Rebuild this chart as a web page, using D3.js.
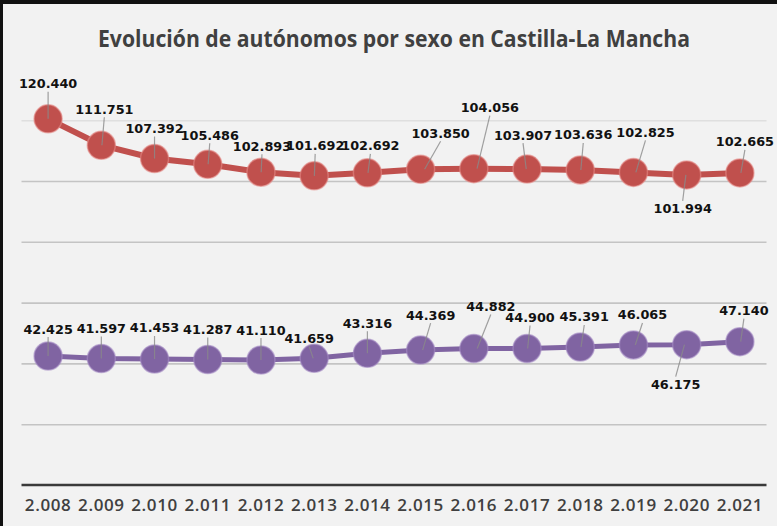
<!DOCTYPE html>
<html lang="es">
<head>
  <meta charset="UTF-8">
  <title>Evolución de autónomos por sexo en Castilla-La Mancha</title>
  <script src="https://d3js.org/d3.v7.min.js"></script>
  <style>
    body { margin: 0; background: #f2f2f2; }
    svg { display: block; }
    .title { font-family: "Open Sans", sans-serif; font-weight: 700; font-size: 23px; fill: #404040; }
    .xlab { font-family: "Open Sans", sans-serif; font-weight: 600; font-size: 17px; fill: #404040; }
    .val { font-family: "DejaVu Sans", sans-serif; font-weight: 700; font-size: 12.8px; fill: #111; }
  </style>
</head>
<body>
  <svg width="777" height="526"></svg>
  <script>
    // data
    const years = ["2.008", "2.009", "2.010", "2.011", "2.012", "2.013", "2.014",
                   "2.015", "2.016", "2.017", "2.018", "2.019", "2.020", "2.021"];
    const hombres = [120440, 111751, 107392, 105486, 102893, 101692, 102692,
                     103850, 104056, 103907, 103636, 102825, 101994, 102665];
    const mujeres = [42425, 41597, 41453, 41287, 41110, 41659, 43316,
                     44369, 44882, 44900, 45391, 46065, 46175, 47140];
    const gridTicks = [20000, 40000, 60000, 80000, 100000, 120000];

    // label placement (nudges from the point, in px)
    const hombresNudgeX = [0, 3, 0, 2, 1, 1, 3, 20, 16, -4, 3, 12, -4, 5];
    const hombresNudgeY = [-35, -36, -30, -29, -26, -30, -27, -36, -61, -34, -35, -40, 34, -31];
    const mujeresNudgeX = [0, 0, 0, 0, 0, -5, 0, 10, 17, 3, 4, 9, -11, 4];
    const mujeresNudgeY = [-27, -30, -31, -30, -30, -20, -30, -35, -42, -31, -30, -30, 40, -31];

    const svg = d3.select("svg");
    const fmt = d3.format(",.0f");
    const label = v => fmt(v).replace(/,/g, ".");

    const x = d3.scaleBand().domain(years).range([21.5, 766.5]);
    const y = d3.scaleLinear().domain([0, 140000]).range([485, 59.4]);
    const cx = d => x(d) + x.bandwidth() / 2;

    svg.append("rect").attr("width", 777).attr("height", 526).attr("fill", "#f2f2f2");
    // frame
    svg.append("line").attr("x1", 0).attr("x2", 777).attr("y1", 2).attr("y2", 2)
      .attr("stroke", "#111").attr("stroke-width", 4);
    svg.append("line").attr("x1", 1.5).attr("x2", 1.5).attr("y1", 0).attr("y2", 526)
      .attr("stroke", "#111").attr("stroke-width", 3);

    svg.append("text").attr("class", "title")
      .attr("x", 394).attr("y", 47).attr("text-anchor", "middle")
      .attr("textLength", 592).attr("lengthAdjust", "spacingAndGlyphs")
      .text("Evolución de autónomos por sexo en Castilla-La Mancha");

    // gridlines
    svg.append("g")
      .attr("transform", "translate(766.5,0)")
      .call(d3.axisLeft(y).tickValues(gridTicks).tickSize(-745).tickFormat(""))
      .call(g => g.select(".domain").remove())
      .call(g => g.selectAll("line")
        .attr("x1", -745).attr("x2", 0)
        .attr("stroke", "#c4c4c4").attr("stroke-width", 1.6)
        .attr("stroke-opacity", d => d === 120000 ? 0.4 : 1));

    // x axis
    const xa = svg.append("g")
      .attr("transform", "translate(0,485)")
      .call(d3.axisBottom(x).tickSize(0).tickPadding(14));
    xa.select(".domain").attr("stroke", "#3a3a3a").attr("stroke-width", 2.5)
      .attr("d", "M21.5,0H766.5");
    xa.selectAll("text").attr("class", "xlab").attr("font-family", null).attr("font-size", null)
      .attr("fill", null).attr("dy", "0.71em").style("letter-spacing", "0.6px");

    const series = [
      { values: hombres, color: "#c0504d", ring: "#e58b87", width: 6, nx: hombresNudgeX, ny: hombresNudgeY },
      { values: mujeres, color: "#8064a2", ring: "#a58cc4", width: 5, nx: mujeresNudgeX, ny: mujeresNudgeY }
    ];

    const line = d3.line().x((d, i) => cx(years[i])).y(d => y(d));

    series.forEach(s => {
      const g = svg.append("g");
      g.append("path").datum(s.values)
        .attr("d", line).attr("fill", "none")
        .attr("stroke", s.color).attr("stroke-width", s.width);

      g.selectAll("circle").data(s.values).enter().append("circle")
        .attr("cx", (d, i) => cx(years[i]))
        .attr("cy", d => y(d))
        .attr("r", 14)
        .attr("fill", s.color)
        .attr("stroke", s.ring).attr("stroke-opacity", 0.6).attr("stroke-width", 1.5);

      // leader lines
      g.selectAll(".leader").data(s.values).enter().append("line")
        .attr("class", "leader")
        .attr("x1", (d, i) => cx(years[i]) + s.nx[i])
        .attr("y1", (d, i) => y(d) + s.ny[i] + (s.ny[i] < 0 ? 8 : -8))
        .attr("x2", (d, i) => cx(years[i]) + s.nx[i] * 0.2)
        .attr("y2", d => y(d))
        .attr("stroke", "#8a8a8a").attr("stroke-width", 1.2).attr("stroke-opacity", 0.8);

      g.selectAll(".val").data(s.values).enter().append("text")
        .attr("class", "val")
        .attr("x", (d, i) => cx(years[i]) + s.nx[i])
        .attr("y", (d, i) => y(d) + s.ny[i])
        .attr("dy", "0.35em")
        .attr("text-anchor", "middle")
        .text(d => label(d));
    });
  </script>
</body>
</html>
